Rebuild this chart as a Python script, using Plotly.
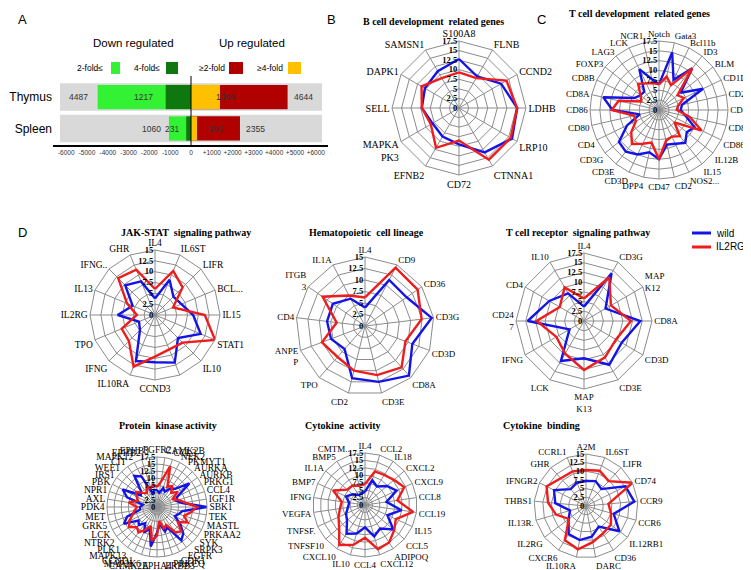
import plotly.graph_objects as go

W, H = 751, 570

# ---------------- Panel A data ----------------
tissues = ["Thymus", "Spleen"]
down_2fold = [4487, 1060]
down_4fold = [1217, 231]
up_2fold = [4644, 2355]
up_4fold = [1396, 292]
background_extent = [6300, 6300]
x_tick_values = [-6000, -5000, -4000, -3000, -2000, -1000, 0, 1000, 2000, 3000, 4000, 5000, 6000]
x_tick_labels = ["-6000", "-5000", "-4000", "-3000", "-2000", "-1000", "0",
                 "+1000", "+2000", "+3000", "+4000", "+5000", "+6000"]

# ---------------- Panel B ----------------
b_genes = ["S100A8", "FLNB", "CCND2", "LDHB", "LRP10", "CTNNA1", "CD72", "EFNB2",
           "MAPKA<br>PK3", "SELL", "DAPK1", "SAMSN1"]
b_wild = [12.8, 9.5, 12.7, 15.2, 16.0, 13.4, 9.5, 8.6, 8.0, 9.7, 10.3, 11.1]
b_il2rg = [9.3, 9.0, 14.3, 15.2, 15.6, 15.6, 8.5, 12.0, 8.5, 9.7, 11.3, 9.0]

# ---------------- Panel C ----------------
c_genes = ["Notch", "Gata3", "Bcl11b", "ID3", "BLM", "CD1D", "CD2", "CD4", "CD80", "CD86",
           "IL12B", "IL15", "NOS2...", "CD2\u200b", "CD47", "DPP4", "CD3D", "CD3E", "CD3G",
           "CD4\u200b", "CD80\u200b", "CD86\u200b", "CD8A", "CD8B", "FOXP3", "LAG3", "LCK", "NCR1"]
c_wild = [6.5, 15.0, 8.5, 13.5, 7.0, 12.4, 6.0, 5.5, 7.0, 10.0, 9.0, 10.7, 9.5, 9.0,
          12.5, 11.0, 12.5, 13.5, 13.0, 9.0, 5.0, 11.8, 14.5, 7.0, 6.0, 6.0, 11.5, 8.0]
c_il2rg = [6.5, 8.7, 7.0, 13.5, 6.0, 7.0, 5.0, 4.5, 8.0, 12.0, 5.0, 8.5, 7.5, 8.0,
           12.5, 8.5, 9.5, 11.0, 9.0, 6.5, 6.5, 12.0, 10.5, 5.0, 6.0, 8.5, 7.5, 7.0]

# ---------------- Panel D ----------------
jak_genes = ["IL4", "IL6ST", "LIFR", "BCL...", "IL15", "STAT1", "IL10", " ", "CCND3",
             "IL10RA", "IFNG", "TPO", "IL2RG", "IL13", "IFNG..", "GHR"]
jak_wild = [3.8, 8.8, 6.0, 6.6, 8.8, 11.4, 7.5, 11.9, 10.9, 11.5, 4.9, 4.0, 8.6, 5.6, 9.7, 8.4]
jak_il2rg = [6.0, 11.0, 9.0, 4.5, 11.5, 15.0, 9.0, 8.6, 9.6, 12.9, 8.5, 8.3, 4.2, 7.0, 12.0, 11.3]

hema_genes = ["IL4", "CD9", "CD36", "CD3G", "CD3D", "CD8A", "CD3E", "CD2", "TPO",
              "ANPE<br>P", "CD4", "ITGB<br>3", "IL1A"]
hema_wild = [4.0, 11.3, 11.0, 14.6, 11.0, 14.4, 12.5, 11.7, 6.7, 7.9, 8.3, 8.5, 6.7]
hema_il2rg = [6.2, 14.3, 13.9, 12.4, 9.4, 12.0, 11.0, 10.0, 9.0, 10.0, 6.2, 11.2, 7.5]

tcr_genes = ["IL4", "CD3G", "MAP<br>K12", "CD8A", "CD3D", "CD3E", "MAP<br>K13", "LCK",
             "IFNG", "CD24<br>7", "CD4", "IL10"]
tcr_wild = [3.7, 14.2, 6.4, 14.5, 11.2, 13.0, 9.6, 11.9, 4.3, 14.5, 10.3, 8.2]
tcr_il2rg = [5.8, 13.0, 8.0, 12.1, 9.5, 10.8, 12.6, 9.7, 8.2, 12.2, 7.2, 10.0]

pk_genes = ["FGFR2", "CAMK2B", "CCL3", "NEK2", "PKMYT1", "AURKA", "AURKB", "PRKG1", "CCL4",
            "IGF1R", "SBK1", "TEK", "MASTL", "PRKAA2", "SYK", "SRPK3", "EGFR", "CDK1",
            "PRKCQ", "ERBB3", "EPHA4", "CAMK2A", "MAP2K6", "CCND1", "MAPK13", "PLK1",
            "NTRK2", "LCK", "GRK5", "MET", "PDK4", "AXL", "NPR1", "PBK", "IRS1", "WEE1",
            "CIT", "MAPK12", "EPHB2", "EPHB3"]
pk_wild = [6, 5, 7, 6, 8, 9, 14, 8, 7, 9, 17.5, 9, 8, 7, 10, 13, 14.5, 8, 9, 6,
           9, 14, 8, 10, 7, 9, 8, 13, 11, 6, 6, 5, 11, 13.5, 7, 8, 13.5, 12, 5, 6]
pk_il2rg = [7, 9, 15, 8, 9, 7, 9, 6, 8, 10, 14, 12, 10, 12, 9, 12, 11, 7, 8, 5,
            10, 12, 7, 9, 11, 10, 12, 11, 9, 8, 7, 10, 7, 8, 9, 7, 6, 8, 7, 8]

ca_genes = ["IL4", "CCL2", "IL18", "CXCL2", "CXCL9", "CCL8", "CCL19", "IL15", "CCL5",
            "ADIPOQ", "CXCL12", "CCL4", "IL10", "CXCL10", "TNFSF10", "TNFSF.", "VEGFA",
            "IFNG", "BMP7", "IL1A", "BMP5", "CMTM.."]
ca_wild = [4.5, 8.7, 7.4, 9.8, 11.7, 7.3, 12.4, 8.3, 12.6, 9.4, 11.0, 7.5, 10.0, 11.5,
           8.0, 7.0, 5.8, 5.4, 7.0, 5.5, 4.0, 4.0]
ca_il2rg = [7.0, 11.8, 12.0, 12.9, 14.5, 11.0, 16.4, 11.4, 13.0, 15.0, 15.5, 11.0, 14.0,
            16.0, 11.5, 9.8, 8.5, 7.9, 11.8, 7.9, 7.8, 6.7]

cb_genes = ["A2M", "IL6ST", "LIFR", "CD74", "CCR9", "CCR6", "IL12RB1", "CD36", "DARC",
            "IL10RA", "CXCR6", "IL2RG", "IL13R.", "THBS1", "IFNGR2", "GHR", "CCRL1"]
cb_wild = [7.2, 7.7, 6.6, 12.7, 14.0, 8.3, 12.1, 7.0, 9.0, 10.0, 9.5, 6.3, 4.8, 8.9, 10.3, 6.6, 7.2]
cb_il2rg = [10.4, 10.9, 9.7, 15.0, 6.5, 7.5, 9.0, 9.3, 10.6, 12.7, 11.6, 6.2, 9.0, 11.0, 12.7, 10.8, 10.7]

series_names = ["wild", "IL2RG"]

# ---------------- styles ----------------
BLUE = "#1414E6"
RED = "#EE1C1C"
GRID = "#8C8C8C"
SERIF = "Liberation Serif"
SANS = "Liberation Sans"
C_LGREEN = "#33F233"
C_DGREEN = "#0E780E"
C_DRED = "#B00000"
C_ORANGE = "#FFC000"
C_GREY = "#D9D9D9"

fig = go.Figure()

# ---------------- Panel A bars ----------------
ypos = [1, 0]
bar_specs = [
    ([-v for v in background_extent], C_GREY, 0.88),
    (background_extent, C_GREY, 0.88),
    ([-v for v in down_2fold], C_LGREEN, 0.77),
    ([-v for v in down_4fold], C_DGREEN, 0.77),
    (up_2fold, C_DRED, 0.77),
    (up_4fold, C_ORANGE, 0.77),
]
for xs, col, wd in bar_specs:
    fig.add_trace(go.Bar(y=ypos, x=xs, orientation="h", width=wd,
                         marker=dict(color=col, line=dict(width=0)),
                         showlegend=False, hoverinfo="skip", xaxis="x", yaxis="y"))

a_y0, a_y1 = 1 - 137 / H, 1 - 68 / H
fig.update_layout(
    barmode="overlay",
    xaxis=dict(domain=[45 / W, 320 / W], range=[-6635, 6587], tickvals=x_tick_values,
               ticktext=x_tick_labels, tickangle=0,
               tickfont=dict(family=SANS, size=6.5, color="#333"),
               showline=True, linecolor="black", linewidth=1.5, showgrid=False,
               zeroline=False, ticks="", anchor="y", fixedrange=True),
    yaxis=dict(domain=[a_y0, a_y1], range=[-0.524, 1.667], tickvals=ypos, ticktext=tissues,
               tickfont=dict(family=SANS, size=12, color="black"), showgrid=False,
               zeroline=False, showline=False, ticks="", anchor="x", fixedrange=True),
)

shapes = [dict(type="line", xref="x", yref="paper", x0=0, x1=0, y0=a_y0, y1=a_y1,
               line=dict(color="black", width=1))]
annotations = []


def px_ann(text, x, y, size, family=SANS, color="black", xanchor="center", **kw):
    annotations.append(dict(text=text, x=x / W, y=1 - y / H, xref="paper", yref="paper",
                            showarrow=False, xanchor=xanchor, yanchor="middle",
                            font=dict(family=family, size=size, color=color), **kw))


# bar value labels (positions in data units)
value_labels = [
    (down_2fold[0], -5430, 1), (down_4fold[0], -2300, 1), (up_4fold[0], 1680, 1), (up_2fold[0], 5430, 1),
    (down_2fold[1], -1900, 0), (down_4fold[1], -900, 0), (up_4fold[1], 1200, 0), (up_2fold[1], 3080, 0),
]
for val, lx, ly in value_labels:
    annotations.append(dict(text=str(val), x=lx, y=ly, xref="x", yref="y", showarrow=False,
                            font=dict(family=SANS, size=8.5, color="#333")))

px_ann("Down regulated", 125, 35, 11.5)
px_ann("Up regulated", 244, 35, 11.5)
legend_a = [("2-fold\u2264", 97, C_LGREEN, 103, 112), ("4-fold\u2264", 154, C_DGREEN, 158, 170),
            ("\u22652-fold", 219, C_DRED, 221, 235), ("\u22654-fold", 277, C_ORANGE, 280, 293)]
for txt, tx, col, sx0, sx1 in legend_a:
    px_ann(txt, tx, 60, 8.5, xanchor="right")
    shapes.append(dict(type="rect", xref="paper", yref="paper", x0=sx0 / W, x1=sx1 / W,
                       y0=1 - 66 / H, y1=1 - 54 / H, fillcolor=col, line=dict(width=0)))

# panel letters
for letter, lx, ly in [("A", 8, 12), ("B", 317, 12), ("C", 527, 12), ("D", 8, 224)]:
    px_ann(letter, lx, ly, 13, xanchor="left")

# ---------------- radar charts ----------------
polar_count = [0]


def dom(cx, cy, r):
    return dict(x=[(cx - r) / W, (cx + r) / W], y=[1 - (cy + r) / H, 1 - (cy - r) / H])


def add_radar(genes, wild, il2rg, cx, cy, r, rmax, lab_size, title, tx, ty):
    polar_count[0] += 1
    n = polar_count[0]
    pid = "polar" if n == 1 else "polar%d" % n
    for vals, col, nm in [(wild, BLUE, series_names[0]), (il2rg, RED, series_names[1])]:
        fig.add_trace(go.Scatterpolar(r=vals + [vals[0]], theta=genes + [genes[0]], mode="lines",
                                      line=dict(color=col, width=2.4), name=nm,
                                      showlegend=False, subplot=pid, hoverinfo="skip"))
    fig.update_layout({pid: dict(
        domain=dom(cx, cy, r), gridshape="linear", bgcolor="rgba(0,0,0,0)",
        angularaxis=dict(rotation=90, direction="clockwise", type="category",
                         categoryorder="array", categoryarray=genes, showline=True,
                         linecolor=GRID, linewidth=1, gridcolor=GRID, gridwidth=1,
                         ticks="", ticklen=0,
                         tickfont=dict(family=SERIF, size=lab_size, color="black")),
        radialaxis=dict(range=[0, rmax], tick0=0, dtick=2.5, angle=90, showline=False,
                        gridcolor=GRID, gridwidth=1, ticks="", ticklen=0,
                        side="counterclockwise", tickangle=90,
                        tickfont=dict(family=SERIF, size=8.5, color="black", weight="bold")),
    )})
    px_ann("<b>%s</b>" % title, tx, ty, 10, family=SERIF)


add_radar(b_genes, b_wild, b_il2rg, 451, 100, 67, 17.5, 10,
          "B cell development  related genes", 425, 14)
add_radar(c_genes, c_wild, c_il2rg, 651, 102, 69, 17.5, 9,
          "T cell development  related genes", 631, 5)
add_radar(jak_genes, jak_wild, jak_il2rg, 147, 307, 65, 15, 9.5,
          "JAK-STAT  signaling pathway", 178, 224)
add_radar(hema_genes, hema_wild, hema_il2rg, 357, 318, 69, 15, 9,
          "Hematopoietic  cell lineage", 358, 224)
add_radar(tcr_genes, tcr_wild, tcr_il2rg, 576, 313, 68, 17.5, 9,
          "T cell receptor  signaling pathway", 570, 224)
add_radar(pk_genes, pk_wild, pk_il2rg, 149, 499, 50, 17.5, 9.5,
          "Protein  kinase activity", 160, 418)
add_radar(ca_genes, ca_wild, ca_il2rg, 357, 497, 52, 17.5, 9,
          "Cytokine  activity", 335, 418)
add_radar(cb_genes, cb_wild, cb_il2rg, 578, 498, 52, 15, 9,
          "Cytokine  binding", 533, 418)

# radar legend
for i, (nm, col) in enumerate(zip(series_names, [BLUE, RED])):
    yy = 225 + 14 * i
    shapes.append(dict(type="line", xref="paper", yref="paper", x0=684 / W, x1=703 / W,
                       y0=1 - yy / H, y1=1 - yy / H, line=dict(color=col, width=3)))
    px_ann(nm, 706, yy, 10, xanchor="left")

fig.update_layout(width=W, height=H, margin=dict(l=0, r=0, t=0, b=0),
                  paper_bgcolor="white", plot_bgcolor="white", showlegend=False,
                  shapes=shapes, annotations=annotations)

fig.write_html("out.html")
